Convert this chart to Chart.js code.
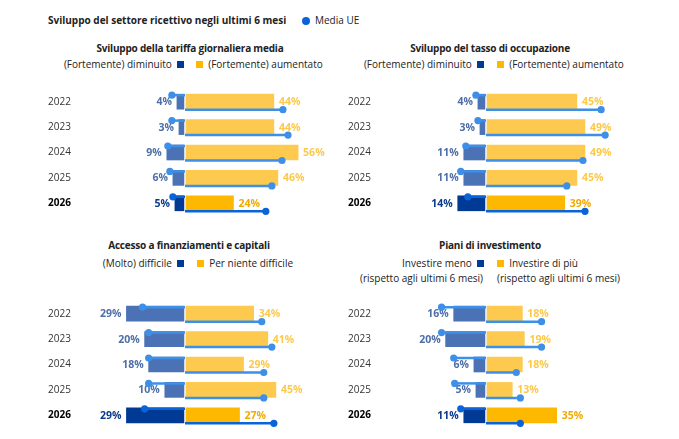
<!DOCTYPE html>
<html>
<head>
<meta charset="utf-8">
<script src="https://cdn.jsdelivr.net/npm/chart.js@4.4.1/dist/chart.umd.min.js"></script>
<style>
  body { margin: 0; background: #fff; font-family: 'Open Sans', sans-serif; color: #222; }
  #page { position: relative; width: 679px; height: 439px; overflow: hidden; }
  .txt { position: absolute; white-space: nowrap; font-size: 10px; line-height: 14px; }
  .ttl { font-weight: bold; font-size: 10px; letter-spacing: -0.2px; transform: translateX(-50%); }
  .sq { display: inline-block; width: 7px; height: 7px; vertical-align: 0px; }
  .sq.b { background: #003a94; }
  .sq.y { background: #ffb800; }
  canvas { position: absolute; }
</style>
</head>
<body>
<div id="page">
  <div class="txt" style="left:48px;top:13px;font-weight:bold;font-size:10px">Sviluppo del settore ricettivo negli ultimi 6 mesi</div>
  <div class="txt" style="left:302px;top:13px"><span style="display:inline-block;width:8px;height:8px;border-radius:50%;background:#0b63d8;margin-right:5px;vertical-align:-0.5px"></span>Media UE</div>

  <div class="txt ttl" style="left:190px;top:41px">Sviluppo della tariffa giornaliera media</div>
  <div class="txt" style="right:495px;top:57px">(Fortemente) diminuito&nbsp; <i class="sq b"></i></div>
  <div class="txt" style="left:196px;top:57px"><i class="sq y"></i>&nbsp; (Fortemente) aumentato</div>

  <div class="txt ttl" style="left:490px;top:41px">Sviluppo del tasso di occupazione</div>
  <div class="txt" style="right:195px;top:57px">(Fortemente) diminuito&nbsp; <i class="sq b"></i></div>
  <div class="txt" style="left:497px;top:57px"><i class="sq y"></i>&nbsp; (Fortemente) aumentato</div>

  <div class="txt ttl" style="left:189px;top:238px">Accesso a finanziamenti e capitali</div>
  <div class="txt" style="right:495px;top:256px">(Molto) difficile&nbsp; <i class="sq b"></i></div>
  <div class="txt" style="left:197px;top:256px"><i class="sq y"></i>&nbsp; Per niente difficile</div>

  <div class="txt ttl" style="left:490px;top:238px">Piani di investimento</div>
  <div class="txt" style="right:195px;top:256px">Investire meno&nbsp; <i class="sq b"></i></div>
  <div class="txt" style="left:497px;top:256px"><i class="sq y"></i>&nbsp; Investire di più</div>
  <div class="txt" style="right:196px;top:271px">(rispetto agli ultimi 6 mesi)</div>
  <div class="txt" style="left:497px;top:271px">(rispetto agli ultimi 6 mesi)</div>

  <canvas id="c1" width="339" height="135" style="left:0;top:85px"></canvas>
  <canvas id="c2" width="339" height="135" style="left:340px;top:85px"></canvas>
  <canvas id="c3" width="339" height="135" style="left:0;top:297px"></canvas>
  <canvas id="c4" width="339" height="135" style="left:340px;top:297px"></canvas>
</div>
<script>
const years = ['2022', '2023', '2024', '2025', '2026'];

// Sviluppo della tariffa giornaliera media
const tariffaGiu = [4, 3, 9, 6, 5];
const tariffaSu = [44, 44, 56, 46, 24];
const tariffaUeGiu = [6.5, 6.5, 8.5, 7.5, 6];
const tariffaUeSu = [48.5, 51, 48, 43, 40];

// Sviluppo del tasso di occupazione
const occGiu = [4, 3, 11, 11, 14];
const occSu = [45, 49, 49, 45, 39];
const occUeGiu = [5, 4, 10, 12.5, 9];
const occUeSu = [57, 59, 48, 40, 49];

// Accesso a finanziamenti e capitali
const finGiu = [29, 20, 18, 10, 29];
const finSu = [34, 41, 29, 45, 27];
const finUeGiu = [21, 18, 18, 18, 20];
const finUeSu = [38, 43, 39, 39, 44];

// Piani di investimento
const invGiu = [16, 20, 6, 5, 11];
const invSu = [18, 19, 18, 13, 35];
const invUeGiu = [22, 22, 16, 15.5, 12.5];
const invUeSu = [27.5, 27.5, 15, 17, 17];

const PX = 2.02;          // pixel per punto percentuale
const FONT = "'Open Sans', sans-serif";
const BLUE = '#4a72b4', BLUE_26 = '#003a94';
const YEL = '#fdca4f', YEL_26 = '#ffb800';
const DOT = '#3d8fe8', DOT_26 = '#0b63d8';

const euPlugin = {
  id: 'eu',
  afterDatasetsDraw(chart) {
    const ctx = chart.ctx;
    const xs = chart.scales.x;
    const x0 = xs.getPixelForValue(0);
    const { top, bottom } = chart.chartArea;
    ctx.save();
    // linea bianca al centro
    ctx.strokeStyle = '#fff';
    ctx.lineWidth = 1.5;
    ctx.beginPath();
    ctx.moveTo(x0, top);
    ctx.lineTo(x0, bottom);
    ctx.stroke();

    chart.data.datasets.forEach((ds, di) => {
      const meta = chart.getDatasetMeta(di);
      meta.data.forEach((bar, i) => {
        const last = i === years.length - 1;
        const v = Math.abs(ds.data[i]);
        // etichetta
        ctx.font = 'bold 10.5px ' + FONT;
        ctx.textBaseline = 'middle';
        if (di === 0) {
          ctx.fillStyle = last ? '#0b3a8c' : '#4d6ea8';
          ctx.textAlign = 'right';
          ctx.fillText(v + '%', bar.x - 5, bar.y + 0.5);
        } else {
          ctx.fillStyle = last ? '#f2aa00' : '#fcc94a';
          ctx.textAlign = 'left';
          ctx.fillText(v + '%', bar.x + 5, bar.y + 0.5);
        }
        // media UE
        const h = bar.height;
        const y = di === 0 ? bar.y - h / 2 + 1 : bar.y + h / 2 + 0.5;
        const xe = xs.getPixelForValue(di === 0 ? -ds.ue[i] : ds.ue[i]);
        const c = last ? DOT_26 : DOT;
        ctx.strokeStyle = c;
        ctx.fillStyle = c;
        ctx.lineWidth = 2.5;
        ctx.beginPath();
        ctx.moveTo(x0, y);
        ctx.lineTo(xe, y);
        ctx.stroke();
        ctx.beginPath();
        ctx.arc(xe, y, 3.6, 0, Math.PI * 2);
        ctx.fill();
      });
    });
    ctx.restore();
  }
};

function panel(id, giu, su, ueGiu, ueSu, padLeft, center) {
  const yw = 60;
  const right = 335;
  const min = -(center - padLeft - yw) / PX;
  const max = (right - center) / PX;
  new Chart(document.getElementById(id), {
    type: 'bar',
    data: {
      labels: years,
      datasets: [
        {
          data: giu.map(v => -v),
          ue: ueGiu,
          backgroundColor: years.map((y, i) => i === years.length - 1 ? BLUE_26 : BLUE),
          barThickness: 15,
        },
        {
          data: su,
          ue: ueSu,
          backgroundColor: years.map((y, i) => i === years.length - 1 ? YEL_26 : YEL),
          barThickness: 15,
        }
      ]
    },
    options: {
      indexAxis: 'y',
      responsive: false,
      animation: false,
      layout: { padding: { left: padLeft, right: 339 - right, top: 4, bottom: 4 } },
      plugins: { legend: { display: false }, tooltip: { enabled: false } },
      scales: {
        x: { display: false, stacked: true, min: min, max: max },
        y: {
          stacked: true,
          grid: { display: false },
          border: { display: false },
          afterFit: s => { s.width = yw; s.paddingTop = 0; s.paddingBottom = 0; },
          ticks: {
            crossAlign: 'far',
            padding: 0,
            color: c => c.index === years.length - 1 ? '#000' : '#333',
            font: c => ({ family: FONT, size: 10, weight: c.index === years.length - 1 ? 'bold' : 'normal' }),
          }
        }
      }
    },
    plugins: [euPlugin]
  });
}

panel('c1', tariffaGiu, tariffaSu, tariffaUeGiu, tariffaUeSu, 48, 185);
panel('c2', occGiu, occSu, occUeGiu, occUeSu, 8, 146);
panel('c3', finGiu, finSu, finUeGiu, finUeSu, 48, 185);
panel('c4', invGiu, invSu, invUeGiu, invUeSu, 8, 146);
</script>
</body>
</html>
